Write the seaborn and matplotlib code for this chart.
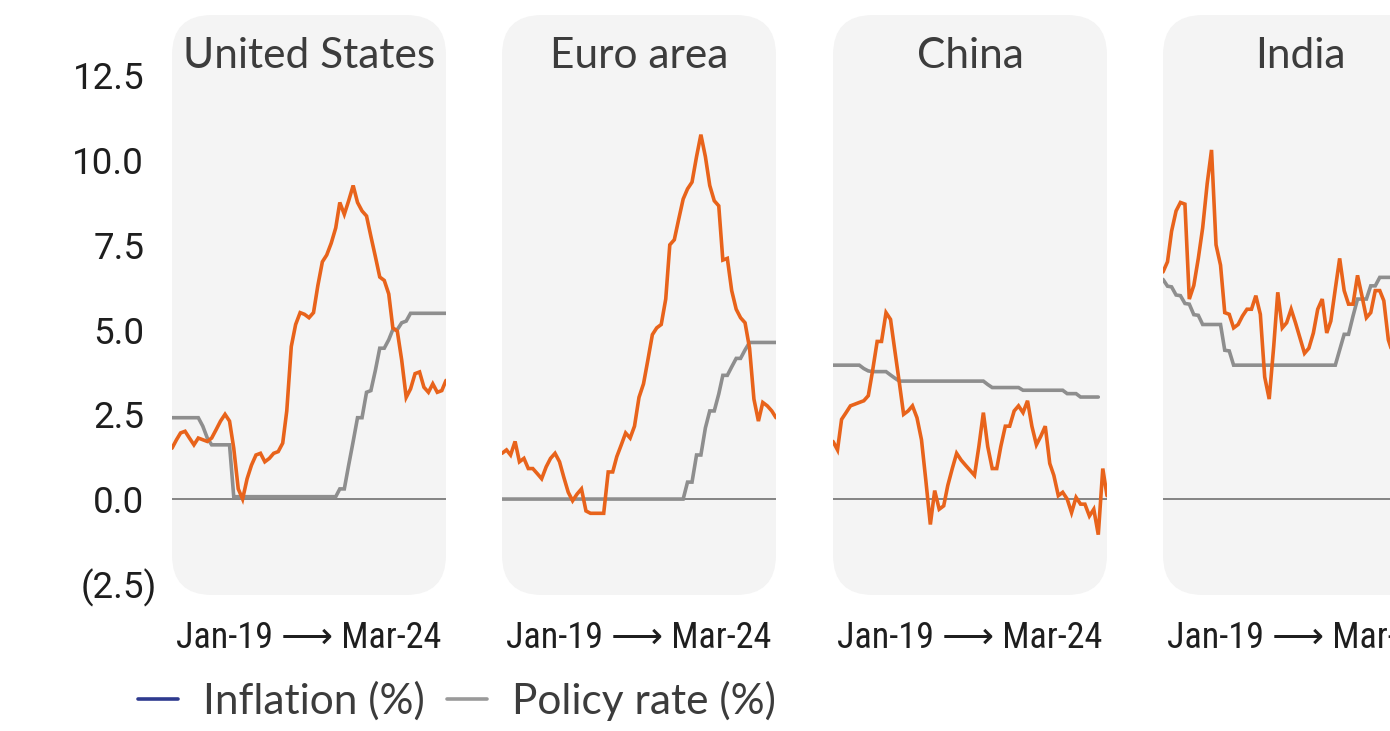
import numpy as np
import pandas as pd
import matplotlib
matplotlib.use("Agg")
import matplotlib.pyplot as plt
import seaborn as sns
from matplotlib.patches import FancyBboxPatch
from matplotlib.lines import Line2D
from matplotlib.transforms import ScaledTranslation

nan = np.nan

# ---------------- data ----------------
countries = ["United States", "Euro area", "China", "India"]
months = pd.date_range("2019-01-01", "2024-03-01", freq="MS")
series_names = ["Inflation (%)", "Policy rate (%)"]
y_ticks = [-2.5, 0.0, 2.5, 5.0, 7.5, 10.0, 12.5]

us_inflation = [1.5, 1.75, 1.95, 2.0, 1.8, 1.6, 1.8, 1.75, 1.7, 1.8, 2.05, 2.3,
                2.5, 2.3, 1.5, 0.3, 0.0, 0.6, 1.0, 1.3, 1.35, 1.1, 1.2, 1.35,
                1.4, 1.65, 2.6, 4.5, 5.15, 5.5, 5.45, 5.35, 5.5, 6.3, 7.0, 7.2,
                7.55, 8.0, 8.75, 8.4, 8.8, 9.25, 8.75, 8.5, 8.35, 7.75, 7.15, 6.55,
                6.45, 6.05, 5.05, 4.95, 4.1, 3.0, 3.25, 3.7, 3.75, 3.3, 3.15, 3.4,
                3.15, 3.2, 3.5]
us_policy = [2.4, 2.4, 2.4, 2.4, 2.4, 2.4, 2.4, 2.15, 1.8, 1.6, 1.6, 1.6,
             1.6, 1.6, 0.07, 0.07, 0.07, 0.07, 0.07, 0.07, 0.07, 0.07, 0.07, 0.07,
             0.07, 0.07, 0.07, 0.07, 0.07, 0.07, 0.07, 0.07, 0.07, 0.07, 0.07, 0.07,
             0.07, 0.07, 0.3, 0.3, 1.0, 1.7, 2.4, 2.4, 3.15, 3.2, 3.8, 4.45,
             4.45, 4.7, 5.0, 5.0, 5.2, 5.25, 5.48, 5.48, 5.48, 5.48, 5.48, 5.48,
             5.48, 5.48, 5.48]

eu_inflation = [1.35, 1.45, 1.3, 1.7, 1.1, 1.2, 0.9, 0.9, 0.75, 0.6, 0.95, 1.2,
                1.35, 1.1, 0.65, 0.2, -0.05, 0.15, 0.3, -0.35, -0.42, -0.42, -0.42, -0.42,
                0.8, 0.8, 1.25, 1.6, 1.95, 1.8, 2.15, 3.0, 3.4, 4.1, 4.85, 5.05,
                5.15, 5.9, 7.5, 7.65, 8.25, 8.85, 9.15, 9.35, 10.1, 10.75, 10.1, 9.25,
                8.8, 8.65, 7.05, 7.1, 6.15, 5.6, 5.35, 5.2, 4.45, 2.95, 2.3, 2.85,
                2.75, 2.6, 2.4]
eu_policy = [0.0] * 42 + [0.5, 0.5, 1.3, 1.3, 2.1, 2.6, 2.6, 3.1, 3.65, 3.65, 3.9, 4.15,
                          4.15, 4.4, 4.62, 4.62, 4.62, 4.62, 4.62, 4.62, 4.62]

cn_inflation = [1.7, 1.45, 2.35, 2.55, 2.75, 2.8, 2.85, 2.9, 3.05, 3.8, 4.65, 4.65,
                5.5, 5.3, 4.4, 3.45, 2.5, 2.6, 2.75, 2.4, 1.75, 0.55, -0.75, 0.25,
                -0.3, -0.2, 0.4, 0.9, 1.35, 1.15, 1.0, 0.85, 0.7, 1.55, 2.55, 1.55,
                0.9, 0.9, 1.55, 2.15, 2.15, 2.6, 2.75, 2.55, 2.9, 2.15, 1.6, 1.85,
                2.15, 1.05, 0.7, 0.1, 0.2, 0.0, -0.4, 0.05, -0.15, -0.15, -0.5, -0.3,
                -1.05, 0.9, 0.1]
cn_policy = [3.95, 3.95, 3.95, 3.95, 3.95, 3.95, 3.95, 3.85, 3.78, 3.76, 3.76, 3.76,
             3.76, 3.66, 3.57, 3.48, 3.48, 3.48, 3.48, 3.48, 3.48, 3.48, 3.48, 3.48,
             3.48, 3.48, 3.48, 3.48, 3.48, 3.48, 3.48, 3.48, 3.48, 3.48, 3.48, 3.38,
             3.29, 3.29, 3.29, 3.29, 3.29, 3.29, 3.29, 3.21, 3.21, 3.21, 3.21, 3.21,
             3.21, 3.21, 3.21, 3.21, 3.21, 3.11, 3.11, 3.11, 3.01, 3.01, 3.01, 3.01,
             3.01, nan, nan]

in_inflation = [6.7, 7.0, 7.9, 8.5, 8.75, 8.7, 5.9, 6.3, 7.1, 8.0, 9.3, 10.3,
                7.5, 6.9, 5.5, 5.45, 5.05, 5.15, 5.4, 5.6, 5.6, 6.0, 5.45, 3.6,
                2.95, 4.5, 6.1, 5.05, 5.2, 5.6, 5.2, 4.75, 4.3, 4.45, 4.9, 5.6,
                5.9, 4.9, 5.25, 6.2, 7.1, 6.15, 5.75, 5.75, 6.6, 6.0, 5.35, 5.5,
                6.15, 6.15, 5.85, 4.7, 4.3] + [nan] * 10
in_policy = [6.48, 6.28, 6.26, 6.02, 6.0, 5.77, 5.75, 5.44, 5.42, 5.15, 5.15, 5.15,
             5.15, 5.15, 4.39, 4.37] + [3.95] * 24 + [4.4, 4.86, 4.86, 5.4, 5.9, 5.9,
             5.9, 6.29, 6.29, 6.54, 6.54, 6.54, 6.54] + [nan] * 10

inflation = {"United States": us_inflation, "Euro area": eu_inflation,
             "China": cn_inflation, "India": in_inflation}
policy = {"United States": us_policy, "Euro area": eu_policy,
          "China": cn_policy, "India": in_policy}

frames = []
for c in countries:
    frames.append(pd.DataFrame({"month": months, "value": inflation[c],
                                "series": series_names[0], "country": c}))
    frames.append(pd.DataFrame({"month": months, "value": policy[c],
                                "series": series_names[1], "country": c}))
df = pd.concat(frames, ignore_index=True)

# ---------------- style ----------------
sns.set_theme(style="white")
plt.rcParams["font.family"] = ["Lato", "DejaVu Sans"]

ORANGE = "#E8631B"
GREY = "#8E8E8E"
PANEL = "#F4F4F4"
TXT = "#3C3C3C"

W, H = 1390, 731
fig = plt.figure(figsize=(W / 100, H / 100), dpi=100)
fig.patch.set_facecolor("white")

box_left = [172, 502, 833, 1163]
box_w, box_top, box_bot, radius = 274, 15, 595, 40
ylim = (-2.83, 14.28)

for k, c in enumerate(countries):
    l = box_left[k]
    rect = [l / W, 1 - box_bot / H, box_w / W, (box_bot - box_top) / H]
    patch = FancyBboxPatch((rect[0], rect[1]), rect[2], rect[3],
                           boxstyle=f"round,pad=0,rounding_size={radius / W}",
                           mutation_aspect=W / H, transform=fig.transFigure,
                           facecolor=PANEL, edgecolor="none", zorder=-5)
    fig.add_artist(patch)

    ax = fig.add_axes(rect)
    ax.set_facecolor("none")
    for s in ax.spines.values():
        s.set_visible(False)
    ax.axhline(0, color="#707070", lw=1.2, zorder=1)

    sub = df[df["country"] == c]
    sns.lineplot(data=sub, x="month", y="value", hue="series",
                 hue_order=[series_names[1], series_names[0]],
                 palette={series_names[0]: ORANGE, series_names[1]: GREY},
                 estimator=None, linewidth=2.6, legend=False, ax=ax,
                 solid_joinstyle="miter", zorder=2)

    ax.set_xlim(months[0], months[-1])
    ax.set_ylim(*ylim)
    ax.set_xticks([])
    ax.set_yticks(y_ticks)
    ax.tick_params(axis="y", length=0, pad=20, labelsize=26.5, labelcolor="#1E1E1E")
    if k == 0:
        labels = [f"({abs(v):.1f})" if v < 0 else f"{v:.1f}" for v in y_ticks]
        ax.set_yticklabels(labels, family=["Roboto", "DejaVu Sans"])
        for v, tick in zip(y_ticks, ax.yaxis.get_major_ticks()):
            if v < 0:
                tick.label1.set_transform(tick.label1.get_transform() +
                                          ScaledTranslation(0.13, 0, fig.dpi_scale_trans))
    else:
        ax.set_yticklabels([])
    ax.set_ylabel("")

    ax.set_title(c, y=1 - 41 / (box_bot - box_top), va="center", pad=0,
                 fontsize=30.5, color=TXT)
    xlab = f"{months[0]:%b-%y} \u27f6 {months[-1]:%b-%y}"
    ax.set_xlabel(xlab, fontsize=26, color="#1E1E1E",
                  family=["Roboto Condensed", "Roboto", "DejaVu Sans"])
    ax.xaxis.set_label_coords(0.5, -43 / (box_bot - box_top))
    ax.xaxis.label.set_va("center")

handles = [Line2D([], [], color="#2E3A8E", lw=2.6),
           Line2D([], [], color="#9A9A9A", lw=2.6)]
fs = 30.5
fs_px = fs * 100 / 72
fig.legend(handles, series_names, loc="center left",
           bbox_to_anchor=(138 / W, 1 - 701 / H), ncol=2, frameon=False,
           prop={"size": fs}, labelcolor=TXT,
           borderpad=0, borderaxespad=0,
           handlelength=40 / fs_px, handletextpad=25 / fs_px,
           columnspacing=22 / fs_px)

fig.savefig("out.png", dpi=100)
